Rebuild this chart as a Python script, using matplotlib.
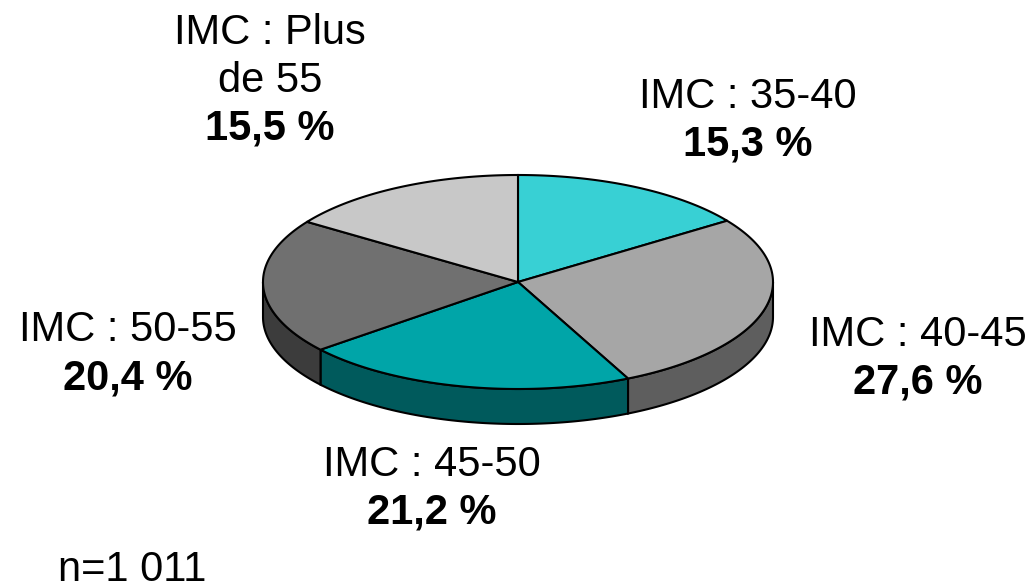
import numpy as np
import matplotlib
matplotlib.use("Agg")
import matplotlib.pyplot as plt
from matplotlib.patches import Polygon

plt.rcParams['font.family'] = ['Liberation Sans', 'DejaVu Sans']

# data (clockwise from 12 o'clock)
categories = ["IMC : 35-40", "IMC : 40-45", "IMC : 45-50", "IMC : 50-55", "IMC : Plus\nde 55"]
shares = [15.3, 27.6, 21.2, 20.4, 15.5]
share_labels = ["15,3 %", "27,6 %", "21,2 %", "20,4 %", "15,5 %"]
top_colors = ["#38D0D4", "#A6A6A6", "#00A5A8", "#707070", "#C8C8C8"]
side_colors = ["#1E8A8C", "#5E5E5E", "#005A5C", "#3C3C3C", "#8A8A8A"]

# label anchors (pixels, centre of first line) and pie geometry
label_pos = [(748, 97), (918, 335), (432, 465), (128, 330), (270, 33)]
cx, cy, rx, ry, depth = 518, 282, 255, 107, 35

fig = plt.figure(figsize=(10.34, 5.88), dpi=100)
ax = fig.add_axes([0, 0, 1, 1])
ax.set_xlim(0, 1034)
ax.set_ylim(588, 0)
ax.axis("off")


def pt(theta, dz=0):
    return cx + rx * np.cos(theta), cy - ry * np.sin(theta) + dz


fracs = np.array(shares) / sum(shares)
bounds = np.radians(90 - 360 * np.concatenate([[0], np.cumsum(fracs)]))

# sides (front half only: angles between -180 and 0 deg)
for i in range(len(shares)):
    a0, a1 = bounds[i], bounds[i + 1]  # a0 > a1 (clockwise)
    # normalise into a range and clip to the visible front half
    segs = []
    for shift in (0, -2 * np.pi, 2 * np.pi):
        lo, hi = a1 + shift, a0 + shift
        lo2, hi2 = max(lo, -np.pi), min(hi, 0)
        if hi2 > lo2:
            segs.append((lo2, hi2))
    for lo, hi in segs:
        t = np.linspace(hi, lo, 80)
        x, y = pt(t)
        xb, yb = pt(t[::-1], depth)
        poly = np.column_stack([np.concatenate([x, xb]), np.concatenate([y, yb])])
        ax.add_patch(Polygon(poly, closed=True, facecolor=side_colors[i],
                             edgecolor="black", linewidth=1.5, zorder=1))

# top wedges
for i in range(len(shares)):
    t = np.linspace(bounds[i], bounds[i + 1], 120)
    x, y = pt(t)
    poly = np.column_stack([np.concatenate([[cx], x]), np.concatenate([[cy], y])])
    ax.add_patch(Polygon(poly, closed=True, facecolor=top_colors[i],
                         edgecolor="black", linewidth=1.5, zorder=2))

# labels
line_h = 48
for name, pct, (lx, ly) in zip(categories, share_labels, label_pos):
    lines = name.split("\n")
    for k, line in enumerate(lines):
        ax.text(lx, ly + k * line_h, line, fontsize=30, ha="center", va="center")
    ax.text(lx, ly + len(lines) * line_h, pct, fontsize=30, fontweight="bold",
            ha="center", va="center")

ax.text(58, 570, "n=1 011", fontsize=30, ha="left", va="center")

fig.savefig("out.png", dpi=100, facecolor="white")
